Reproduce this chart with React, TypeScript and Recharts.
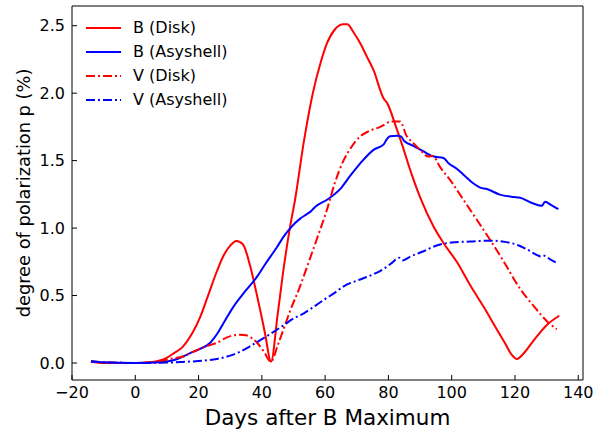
import { LineChart, Line, XAxis, YAxis, Legend, Label, ReferenceLine } from 'recharts';

// B band, disk model
const bDiskDays = [-14, -10, 0, 5, 8, 10, 12, 15, 18, 20.5, 23, 25.8, 28, 30, 32, 34, 36.3, 38, 39.5, 41, 42.9, 45, 47, 49, 50.5, 53.2, 56.3, 58.5, 60.6, 63, 65.8, 67, 69, 71.1, 73, 75.3, 78.5, 79.5, 82.7, 84.3, 86.9, 90, 94.3, 97.4, 101.6, 106, 110, 114, 117, 119, 120.6, 122.7, 126, 130, 134];
const bDiskP = [0.01, 0.0, 0.0, 0.005, 0.02, 0.04, 0.07, 0.12, 0.22, 0.34, 0.5, 0.68, 0.8, 0.87, 0.905, 0.88, 0.72, 0.55, 0.39, 0.22, 0.01, 0.36, 0.72, 1.02, 1.21, 1.63, 2.02, 2.22, 2.37, 2.47, 2.51, 2.51, 2.45, 2.37, 2.28, 2.17, 1.96, 1.93, 1.73, 1.62, 1.43, 1.23, 1.01, 0.89, 0.75, 0.57, 0.42, 0.26, 0.14, 0.06, 0.03, 0.07, 0.17, 0.28, 0.35];

// B band, asymmetric shell
const bShellDays = [-14, -10, 0, 8, 12, 15.3, 18, 20, 23.7, 26, 28, 31.1, 34, 38.5, 41, 44.8, 47, 49, 52.1, 54, 55.3, 57, 60.6, 64.8, 68, 71.1, 75.3, 78.5, 79.5, 80.5, 82.7, 84, 85, 87.9, 91, 94.3, 97.4, 99, 101.6, 104, 106.9, 109, 111.1, 115, 119.5, 121.6, 125, 128.5, 129.5, 131.5, 133.7];
const bShellP = [0.015, 0.005, 0.0, 0.005, 0.02, 0.05, 0.08, 0.1, 0.15, 0.22, 0.3, 0.42, 0.51, 0.64, 0.73, 0.86, 0.94, 1.0, 1.07, 1.1, 1.12, 1.16, 1.21, 1.29, 1.39, 1.48, 1.58, 1.62, 1.66, 1.68, 1.685, 1.68, 1.645, 1.61, 1.57, 1.53, 1.52, 1.48, 1.44, 1.39, 1.33, 1.3, 1.29, 1.25, 1.23, 1.225, 1.19, 1.165, 1.195, 1.17, 1.14];

// V band, disk model
const vDiskDays = [-14, 0, 5, 8, 12, 15.3, 18, 22, 25.8, 29, 31, 33.2, 35, 36.5, 38.5, 40.5, 42.9, 45, 47, 49, 52.1, 55, 58, 60.5, 63, 65.8, 68, 71.1, 74, 77.4, 79, 80.6, 83.7, 85.8, 87.9, 90, 92.7, 94, 96.4, 100, 103.7, 108, 112.2, 116, 121.6, 126, 130.1, 133.2];
const vDiskP = [0.01, 0.0, 0.005, 0.015, 0.035, 0.05, 0.08, 0.12, 0.15, 0.19, 0.205, 0.21, 0.205, 0.19, 0.15, 0.09, 0.01, 0.13, 0.26, 0.39, 0.57, 0.76, 0.96, 1.13, 1.33, 1.5, 1.59, 1.68, 1.72, 1.75, 1.77, 1.79, 1.79, 1.68, 1.63, 1.58, 1.53, 1.535, 1.45, 1.34, 1.21, 1.06, 0.91, 0.77, 0.55, 0.42, 0.31, 0.25];

// V band, asymmetric shell
const vShellDays = [-14, 0, 10, 15, 20, 25.8, 30, 33.2, 36, 39.5, 43, 46.9, 50, 53.4, 56, 59.7, 63, 66, 70, 74.5, 78.7, 81, 83.4, 84.5, 87, 91.3, 94, 97.6, 101, 106, 112.4, 116, 120.8, 124, 127, 128.2, 129.2, 131, 133.4];
const vShellP = [0.01, 0.0, 0.003, 0.008, 0.015, 0.03, 0.055, 0.085, 0.12, 0.17, 0.22, 0.28, 0.33, 0.37, 0.41, 0.47, 0.52, 0.57, 0.61, 0.65, 0.7, 0.74, 0.78, 0.76, 0.79, 0.83, 0.86, 0.885, 0.895, 0.9, 0.907, 0.9, 0.875, 0.84, 0.8, 0.79, 0.795, 0.77, 0.74];

const xTicks = [-20, 0, 20, 40, 60, 80, 100, 120, 140];
const yTicks = [0, 0.5, 1.0, 1.5, 2.0, 2.5];

const zip = (days: number[], p: number[]) => days.map((d, i) => ({ d, p: p[i] }));

const dashDot = '9 3 2 3';
const series = [
  { name: 'B (Disk)', color: '#ff0000', dash: undefined, data: zip(bDiskDays, bDiskP) },
  { name: 'B (Asyshell)', color: '#0000ff', dash: undefined, data: zip(bShellDays, bShellP) },
  { name: 'V (Disk)', color: '#ff0000', dash: dashDot, data: zip(vDiskDays, vDiskP) },
  { name: 'V (Asyshell)', color: '#0000ff', dash: dashDot, data: zip(vShellDays, vShellP) },
];

const font = 'DejaVu Sans, sans-serif';
const xDomain = [-20, 141.5];
const yDomain = [-0.126, 2.646];

// matplotlib-like legend, no frame
const CustomLegend = () => (
  <div style={{ fontFamily: font, fontSize: 16, color: '#000', lineHeight: '24px' }}>
    {series.map((s) => (
      <div key={s.name} style={{ display: 'flex', alignItems: 'center', height: 24 }}>
        <svg width={35} height={24}>
          <line x1={0} y1={12} x2={35} y2={12} stroke={s.color} strokeWidth={2} strokeDasharray={s.dash} />
        </svg>
        <span style={{ marginLeft: 12, whiteSpace: 'nowrap' }}>{s.name}</span>
      </div>
    ))}
  </div>
);

const fmtX = (v: number) => (v < 0 ? '\u2212' + Math.abs(v) : String(v));

// rotated y label
const YLabel = () => (
  <text transform="translate(29.5, 193) rotate(-90)" textAnchor="middle" fontSize={17.8} fontFamily={font} fill="#000">
    degree of polarization p (%)
  </text>
);

export default function App() {
  return (
    <div>
      <style>{'body{margin:0}'}</style>
      <LineChart width={608} height={431} margin={{ top: 6, right: 25, bottom: 0, left: 0 }}>
        <XAxis
          dataKey="d"
          type="number"
          domain={xDomain}
          ticks={xTicks}
          allowDataOverflow
          height={51}
          tickSize={-5}
          tickMargin={12}
          tickFormatter={fmtX}
          tick={{ fill: '#000', fontSize: 16, fontFamily: font }}
          tickLine={{ stroke: '#000' }}
          axisLine={{ stroke: '#000' }}
        >
          <Label value="Days after B Maximum" position="insideBottom" offset={6} style={{ fontSize: 21.5, fontFamily: font, fill: '#000' }} />
        </XAxis>
        <YAxis
          type="number"
          domain={yDomain}
          ticks={yTicks}
          allowDataOverflow
          width={72}
          tickSize={-5}
          tickMargin={12}
          tickFormatter={(v: number) => v.toFixed(1)}
          tick={{ fill: '#000', fontSize: 16, fontFamily: font }}
          tickLine={{ stroke: '#000' }}
          axisLine={{ stroke: '#000' }}
        >
          <Label content={YLabel} />
        </YAxis>
        <ReferenceLine y={yDomain[1]} stroke="#000" />
        <ReferenceLine x={xDomain[1]} stroke="#000" />
        <Legend
          layout="vertical"
          verticalAlign="middle"
          align="center"
          content={CustomLegend}
          wrapperStyle={{ top: 16, left: 86, width: 'auto', height: 'auto' }}
        />
        {series.map((s) => (
          <Line
            key={s.name}
            data={s.data}
            dataKey="p"
            name={s.name}
            type="monotone"
            stroke={s.color}
            strokeWidth={2}
            strokeDasharray={s.dash}
            dot={false}
            isAnimationActive={false}
          />
        ))}
      </LineChart>
    </div>
  );
}
